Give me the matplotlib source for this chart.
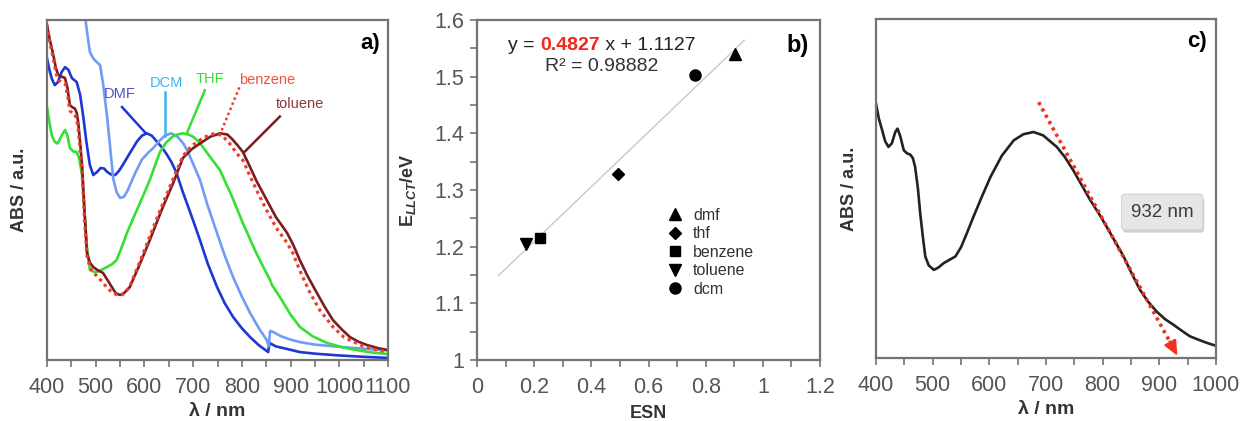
import matplotlib
matplotlib.use("Agg")
import matplotlib.pyplot as plt
import matplotlib.patheffects as pe
from matplotlib.offsetbox import TextArea, HPacker, AnnotationBbox
import numpy as np

plt.rcParams['font.family'] = ['Liberation Sans', 'DejaVu Sans']
plt.rcParams['mathtext.fontset'] = 'custom'
plt.rcParams['mathtext.rm'] = 'Liberation Sans:bold'
plt.rcParams['mathtext.it'] = 'Liberation Sans:italic:bold'

# ---------------- panel a: absorption spectra in five solvents ----------------
wl_dmf = [400, 405, 410, 416, 422, 430, 437, 444, 451, 461, 468, 474, 481, 488, 495,
          503, 510, 517, 524, 532, 540, 548, 556, 564, 575, 585, 595, 605, 615, 625,
          635, 645, 655, 665, 679, 690, 700, 714, 730, 749, 765, 782, 800, 817, 835,
          854, 857, 870, 900, 919, 950, 1000, 1050, 1100]
abs_dmf = [1.33, 1.28, 1.24, 1.213, 1.225, 1.27, 1.292, 1.28, 1.244, 1.226, 1.17, 1.081, 0.96, 0.86, 0.816,
           0.83, 0.847, 0.845, 0.829, 0.818, 0.816, 0.835, 0.862, 0.891, 0.93, 0.965, 0.99, 1.0, 0.99, 0.965,
           0.94, 0.91, 0.875, 0.83, 0.74, 0.675, 0.615, 0.529, 0.425, 0.322, 0.25, 0.19, 0.14, 0.101, 0.065,
           0.035, 0.075, 0.06, 0.045, 0.035, 0.028, 0.02, 0.014, 0.009]

wl_dcm = [470, 478, 482, 488, 495, 502, 509, 515, 523, 530, 536, 543, 550, 558, 566,
          580, 595, 608, 618, 630, 642, 655, 668, 680, 690, 700, 714, 730, 749, 765,
          782, 800, 817, 835, 851, 855, 858, 864, 880, 900, 919, 950, 1000, 1050, 1100]
abs_dcm = [1.65, 1.52, 1.45, 1.359, 1.33, 1.315, 1.301, 1.22, 1.081, 0.93, 0.8, 0.74, 0.715, 0.72, 0.75,
           0.82, 0.885, 0.915, 0.935, 0.965, 0.99, 1.0, 0.985, 0.955, 0.915, 0.865, 0.795, 0.68, 0.56, 0.46,
           0.366, 0.28, 0.207, 0.14, 0.088, 0.06, 0.128, 0.124, 0.105, 0.09, 0.079, 0.068, 0.058, 0.05, 0.042]

wl_thf = [400, 405, 410, 416, 422, 430, 437, 442, 447, 454, 461, 466, 472, 477, 482,
          488, 495, 502, 512, 523, 533, 543, 552, 564, 578, 591, 611, 622, 632, 645,
          660, 678, 690, 700, 714, 730, 755, 780, 802, 830, 850, 858, 862, 878, 900,
          919, 945, 975, 1000, 1022, 1060, 1100]
abs_thf = [1.116, 1.05, 0.99, 0.962, 0.955, 0.99, 1.015, 0.99, 0.935, 0.92, 0.918, 0.89, 0.816, 0.65, 0.5,
           0.397, 0.39, 0.388, 0.398, 0.41, 0.422, 0.441, 0.49, 0.56, 0.63, 0.693, 0.794, 0.86, 0.918, 0.96,
           0.99, 1.0, 0.995, 0.985, 0.957, 0.91, 0.838, 0.72, 0.604, 0.47, 0.385, 0.353, 0.33, 0.278, 0.2,
           0.146, 0.105, 0.075, 0.06, 0.049, 0.035, 0.026]

wl_benz = [400, 406, 413, 418, 423, 430, 437, 442, 447, 452, 457, 461, 464, 468, 472,
           477, 482, 488, 495, 505, 515, 525, 533, 541, 550, 558, 570, 590, 611, 635,
           659, 679, 697, 714, 730, 745, 760, 775, 790, 802, 815, 830, 851, 870, 893,
           905, 920, 940, 960, 987, 1010, 1043, 1070, 1100]
abs_benz = [1.478, 1.40, 1.33, 1.27, 1.235, 1.225, 1.22, 1.17, 1.10, 1.09, 1.085, 1.06, 1.02, 0.93, 0.83,
            0.62, 0.46, 0.41, 0.385, 0.366, 0.34, 0.315, 0.3, 0.29, 0.285, 0.292, 0.325, 0.43, 0.545, 0.675,
            0.8, 0.9, 0.945, 0.97, 0.99, 1.0, 0.99, 0.955, 0.91, 0.882, 0.82, 0.75, 0.66, 0.585, 0.516,
            0.47, 0.39, 0.296, 0.22, 0.146, 0.1, 0.066, 0.048, 0.035]

wl_tol = [400, 406, 413, 418, 423, 430, 437, 442, 447, 452, 457, 461, 464, 468, 472,
          477, 482, 488, 495, 505, 515, 525, 533, 541, 550, 558, 570, 590, 611, 635,
          659, 679, 697, 714, 735, 755, 770, 780, 792, 802, 815, 830, 851, 870, 885,
          893, 905, 919, 935, 954, 970, 987, 1005, 1022, 1040, 1057, 1080, 1100]
abs_tol = [1.478, 1.41, 1.345, 1.29, 1.257, 1.25, 1.244, 1.2, 1.125, 1.115, 1.11, 1.09, 1.05, 0.96, 0.86,
           0.66, 0.472, 0.43, 0.41, 0.395, 0.384, 0.35, 0.322, 0.295, 0.287, 0.295, 0.322, 0.42, 0.529, 0.66,
           0.781, 0.891, 0.93, 0.955, 0.985, 1.0, 0.995, 0.975, 0.945, 0.918, 0.86, 0.79, 0.706, 0.63, 0.585,
           0.56, 0.51, 0.441, 0.37, 0.296, 0.235, 0.176, 0.135, 0.101, 0.08, 0.066, 0.052, 0.044]

# solvent labels: (text, text position, connector start, connector end)
label_names = ['DMF', 'DCM', 'THF', 'benzene', 'toluene']
label_xy = [(550, 1.173), (646, 1.222), (735, 1.238), (852, 1.235), (920, 1.129)]
leader_from = [(554, 1.116), (642, 1.182), (724, 1.19), (795, 1.203), (878, 1.074)]
leader_to = [(603, 1.0), (642, 0.99), (687, 1.0), (756, 1.0), (804, 0.915)]

# ---------------- panel b: E_LLCT vs ESN ----------------
solvents_b = ['dmf', 'thf', 'benzene', 'toluene', 'dcm']
esn = [0.901, 0.494, 0.219, 0.170, 0.763]
e_llct = [1.540, 1.329, 1.215, 1.205, 1.503]
fit_slope = 0.4827
fit_intercept = 1.1127
fit_r2 = 0.98882
fit_range = [0.075, 0.935]
xticks_b = [0, 0.2, 0.4, 0.6, 0.8, 1.0, 1.2]
xticklabels_b = ['0', '0.2', '0.4', '0.6', '0.8', '1', '1.2']
yticks_b = [1.0, 1.1, 1.2, 1.3, 1.4, 1.5, 1.6]
yticklabels_b = ['1', '1.1', '1.2', '1.3', '1.4', '1.5', '1.6']

# ---------------- panel c: single spectrum with band-edge tangent ----------------
wl_c = [400, 405, 411, 416, 422, 428, 434, 438, 443, 449, 455, 460, 465, 469, 474,
        478, 483, 487, 493, 502, 510, 519, 530, 540, 550, 560, 572, 587, 602, 622,
        643, 660, 678, 695, 719, 733, 748, 763, 778, 793, 807, 822, 837, 851, 866,
        880, 895, 910, 925, 940, 954, 970, 985, 1000]
abs_c = [1.125, 1.06, 1.007, 0.96, 0.934, 0.95, 1.0, 1.015, 0.98, 0.919, 0.905, 0.901, 0.885, 0.846, 0.75,
         0.64, 0.53, 0.449, 0.41, 0.39, 0.4, 0.419, 0.435, 0.449, 0.49, 0.55, 0.625, 0.715, 0.801, 0.895,
         0.963, 0.99, 1.0, 0.985, 0.934, 0.89, 0.831, 0.765, 0.699, 0.64, 0.581, 0.515, 0.449, 0.375, 0.301,
         0.25, 0.206, 0.172, 0.147, 0.12, 0.096, 0.08, 0.066, 0.054]
onset_nm = 932
tangent_start = (687, 1.132)
tangent_end = (onset_nm, 0.01)

# ---------------- styling helpers ----------------
FRAME = '#737373'
TICKLAB = '#555555'


def style_frame(ax):
    for s in ax.spines.values():
        s.set_color(FRAME)
        s.set_linewidth(1.6)
    ax.tick_params(which='both', direction='out', length=5, width=1.2,
                   color=FRAME, labelcolor=TICKLAB, labelsize=15.5, pad=7)


fig = plt.figure(figsize=(12.49, 4.21), dpi=100)
W, H = 1249, 421
ax_a = fig.add_axes([47 / W, 61 / H, 341 / W, 340 / H])
ax_b = fig.add_axes([477 / W, 61 / H, 343 / W, 340 / H])
ax_c = fig.add_axes([876 / W, 63 / H, 340 / W, 339 / H])

# ---- panel a ----
ax_a.plot(wl_dmf, abs_dmf, color='#1f36d2', lw=1.9)
ax_a.plot(wl_dcm, abs_dcm, color='#6e9cf6', lw=1.9)
ax_a.plot(wl_thf, abs_thf, color='#34e034', lw=1.9)
ax_a.plot(wl_tol, abs_tol, color='#7a1d1d', lw=1.9)
ax_a.plot(wl_benz, abs_benz, color='#f23a2c', lw=2.3, ls=(0, (1.0, 1.2)))

text_cols = ['#4f4fd0', '#3cb4f0', '#33dd33', '#f2503e', '#8a3a3a']
line_cols = ['#1f36d2', '#3cb4f0', '#34e034', '#f23a2c', '#7a1d1d']
line_styles = ['-', '-', '-', (0, (1.0, 1.2)), '-']
for name, xy, p0, p1, tc, lc, ls in zip(label_names, label_xy, leader_from, leader_to,
                                        text_cols, line_cols, line_styles):
    ax_a.text(xy[0], xy[1], name, color=tc, fontsize=10.5, ha='center', va='center')
    ax_a.plot([p0[0], p1[0]], [p0[1], p1[1]], color=lc, lw=1.8, ls=ls)

ax_a.set_xlim(400, 1100)
ax_a.set_ylim(0, 1.5)
ax_a.set_xticks(np.arange(400, 1101, 100))
ax_a.set_xticks(np.arange(450, 1100, 100), minor=True)
ax_a.set_yticks([])
style_frame(ax_a)
ax_a.set_xlabel('λ / nm', fontsize=14, fontweight='bold', color='#333333', labelpad=4)
ax_a.set_ylabel('ABS / a.u.', fontsize=13, fontweight='bold', color='#333333')
ax_a.yaxis.set_label_coords(-0.056, 0.5)
ax_a.text(0.948, 0.93, 'a)', transform=ax_a.transAxes, fontsize=16,
          fontweight='bold', ha='center', va='center')

# ---- panel b ----
fx = np.array(fit_range)
ax_b.plot(fx, fit_slope * fx + fit_intercept, color='#c8c8c8', lw=1.0)
markers = {'dmf': ('^', 8), 'thf': ('D', 6), 'benzene': ('s', 7),
           'toluene': ('v', 8), 'dcm': ('o', 8)}
for name, x, y in zip(solvents_b, esn, e_llct):
    m, ms = markers[name]
    ax_b.plot([x], [y], ls='none', marker=m, ms=ms, color='black', label=name)

ax_b.set_xlim(0, 1.2)
ax_b.set_ylim(1.0, 1.6)
ax_b.set_xticks(xticks_b)
ax_b.set_xticklabels(xticklabels_b)
ax_b.set_xticks(np.arange(0.1, 1.2, 0.2), minor=True)
ax_b.set_yticks(yticks_b)
ax_b.set_yticklabels(yticklabels_b)
ax_b.set_yticks(np.arange(1.05, 1.6, 0.1), minor=True)
style_frame(ax_b)
ax_b.tick_params(axis='y', which='both', pad=4)
ax_b.set_xlabel('ESN', fontsize=13, fontweight='bold', color='#333333', labelpad=5)
ax_b.set_ylabel(r'E$_{\mathit{LLCT}}$/eV', fontsize=13, fontweight='bold', color='#333333')
ax_b.yaxis.set_label_coords(-0.172, 0.5)

eq_props = dict(fontsize=14, color='#222222')
eq = HPacker(children=[
    TextArea('y = ', textprops=eq_props),
    TextArea(f'{fit_slope:.4f}', textprops=dict(fontsize=14, color='#f2261a', fontweight='bold')),
    TextArea(f' x + {fit_intercept:.4f}', textprops=eq_props),
], align='baseline', pad=0, sep=0)
ax_b.add_artist(AnnotationBbox(eq, (0.363, 0.926), xycoords='axes fraction',
                               frameon=False, box_alignment=(0.5, 0.5), pad=0))
ax_b.text(0.363, 0.862, f'R² = {fit_r2}', transform=ax_b.transAxes,
          fontsize=14, color='#333333', ha='center', va='center')
ax_b.legend(loc='upper left', bbox_to_anchor=(0.555, 0.448), frameon=False,
            fontsize=11.5, handlelength=1.0, handletextpad=0.6, labelspacing=0.22,
            borderpad=0, borderaxespad=0, labelcolor='#333333', numpoints=1)
ax_b.text(0.936, 0.926, 'b)', transform=ax_b.transAxes, fontsize=17,
          fontweight='bold', ha='center', va='center')

# ---- panel c ----
ax_c.plot(wl_c, abs_c, color='#222222', lw=1.9)
ax_c.plot([tangent_start[0], tangent_end[0] - 8], [tangent_start[1], tangent_end[1] + 0.037],
          color='#f2301e', lw=2.6, ls=(0, (0.9, 1.1)))
ax_c.annotate('', xy=tangent_end, xytext=(tangent_end[0] - 14, tangent_end[1] + 0.064),
              arrowprops=dict(arrowstyle='-|>,head_length=0.9,head_width=0.4',
                              color='#f2301e', lw=1.5, shrinkA=0, shrinkB=0))
t = ax_c.text(905, 0.646, f'{onset_nm} nm', fontsize=13.5, color='#3a3a3a',
              ha='center', va='center',
              bbox=dict(boxstyle='round,pad=0.5,rounding_size=0.2',
                        facecolor='#e6e6e6', edgecolor='#d4d4d4', lw=0.8))
t.get_bbox_patch().set_path_effects([
    pe.SimplePatchShadow(offset=(1, -2), alpha=0.25), pe.Normal()])

ax_c.set_xlim(400, 1000)
ax_c.set_ylim(0, 1.5)
ax_c.set_xticks(np.arange(400, 1001, 100))
ax_c.set_xticks(np.arange(450, 1000, 100), minor=True)
ax_c.set_yticks([])
style_frame(ax_c)
ax_c.set_xlabel('λ / nm', fontsize=14, fontweight='bold', color='#333333', labelpad=4)
ax_c.set_ylabel('ABS / a.u.', fontsize=13, fontweight='bold', color='#333333')
ax_c.yaxis.set_label_coords(-0.053, 0.5)
ax_c.text(0.943, 0.933, 'c)', transform=ax_c.transAxes, fontsize=16,
          fontweight='bold', ha='center', va='center')

fig.savefig('out.png', dpi=100)
